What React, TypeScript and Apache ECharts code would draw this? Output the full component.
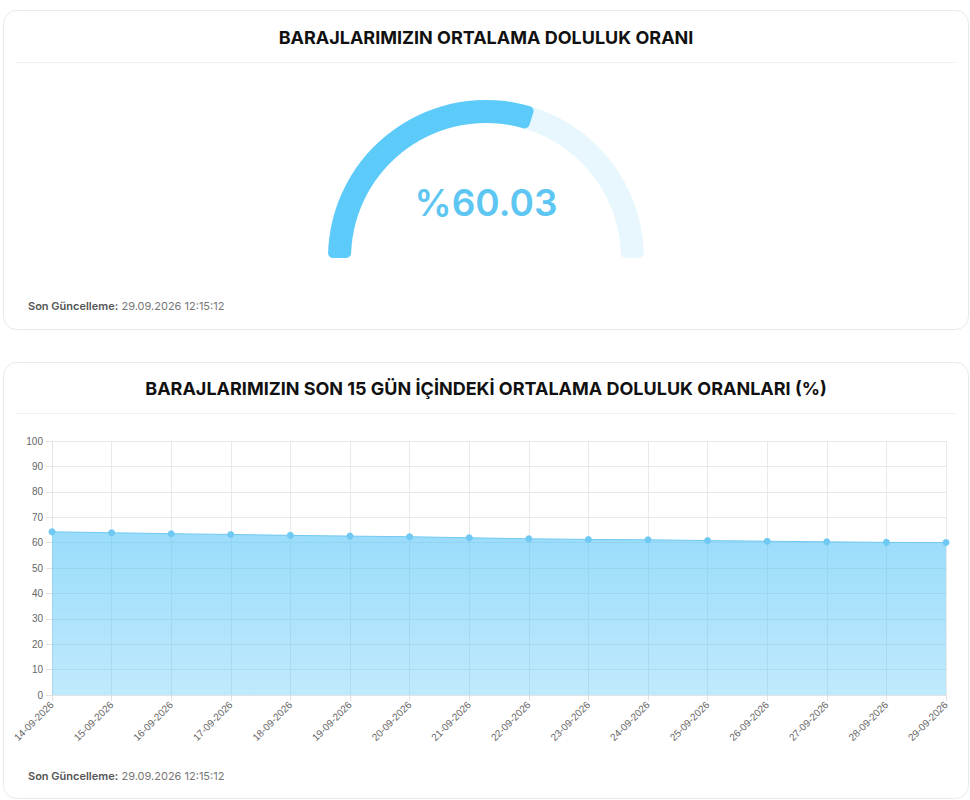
import React, { useEffect, useRef } from "react";
import * as echarts from "echarts";

const gaugeValue = 60.03;
const gaugeMax = 100;
const dates = [
  "14-09-2026", "15-09-2026", "16-09-2026", "17-09-2026", "18-09-2026", "19-09-2026",
  "20-09-2026", "21-09-2026", "22-09-2026", "23-09-2026", "24-09-2026", "25-09-2026",
  "26-09-2026", "27-09-2026", "28-09-2026", "29-09-2026",
];
const fillRates = [
  64.25, 63.88, 63.5, 63.2, 62.85, 62.55, 62.3, 61.9,
  61.5, 61.25, 61.1, 60.8, 60.55, 60.3, 60.08, 60.03,
];
const title1 = "BARAJLARIMIZIN ORTALAMA DOLULUK ORANI";
const title2 = "BARAJLARIMIZIN SON 15 GÜN İÇİNDEKİ ORTALAMA DOLULUK ORANLARI (%)";
const updateLabel = "Son Güncelleme:";
const updateTime = "29.09.2026 12:15:12";

const FONT = "Inter, 'Noto Sans', sans-serif";
const AXIS_FONT = "'Liberation Sans', Arial, sans-serif";

export default function App() {
  const ref = useRef<HTMLDivElement>(null);
  useEffect(() => {
    if (!ref.current) return;
    const chart = echarts.init(ref.current, undefined, { renderer: "svg" });
    const footer = (y: number) => ({
      type: "text",
      left: 28,
      top: y - 7,
      style: {
        text: `{b|${updateLabel}} {n|${updateTime}}`,
        rich: {
          b: { fontFamily: FONT, fontSize: 11, fontWeight: 600, fill: "#555" },
          n: { fontFamily: FONT, fontSize: 11, fontWeight: 400, fill: "#777" },
        },
      },
    });
    chart.setOption({
      animation: false,
      backgroundColor: "#fff",
      graphic: [
        { type: "rect", z: -10, shape: { x: 3.5, y: 10.5, width: 965, height: 319, r: 13 }, style: { fill: "#fff", stroke: "#e9e9e9", lineWidth: 1 } },
        { type: "rect", z: -10, shape: { x: 3.5, y: 362.5, width: 965, height: 436, r: 13 }, style: { fill: "#fff", stroke: "#e9e9e9", lineWidth: 1 } },
        { type: "line", shape: { x1: 16, y1: 62.5, x2: 955, y2: 62.5 }, style: { stroke: "#efefef", lineWidth: 1 } },
        { type: "line", shape: { x1: 16, y1: 413.5, x2: 955, y2: 413.5 }, style: { stroke: "#efefef", lineWidth: 1 } },
        { type: "text", x: 486, y: 37, style: { text: title1, fontFamily: FONT, fontSize: 18, fontWeight: 700, fill: "#111", align: "center", verticalAlign: "middle" } },
        { type: "text", x: 486, y: 388, style: { text: title2, fontFamily: FONT, fontSize: 18, fontWeight: 700, fill: "#111", align: "center", verticalAlign: "middle" } },
        { type: "text", x: 486, y: 202, style: { text: "%" + gaugeValue.toFixed(2), fontFamily: FONT, fontSize: 37, fontWeight: 600, fill: "#5ec6f2", align: "center", verticalAlign: "middle" } },
        footer(307),
        footer(777),
      ],
      grid: { left: 52, right: 24, top: 441, bottom: 105 },
      xAxis: {
        type: "category",
        data: dates,
        boundaryGap: false,
        axisLine: { show: true, lineStyle: { color: "#e3e3e3" } },
        axisTick: { show: true, length: 6, lineStyle: { color: "#e3e3e3" } },
        axisLabel: { rotate: 45, fontSize: 10, color: "#666", fontFamily: AXIS_FONT, margin: 8 },
        splitLine: { show: true, lineStyle: { color: "#e9e9e9" } },
      },
      yAxis: {
        type: "value",
        min: 0,
        max: 100,
        interval: 10,
        axisLine: { show: true, lineStyle: { color: "#e3e3e3" } },
        axisTick: { show: true, length: 6, lineStyle: { color: "#e3e3e3" } },
        axisLabel: { fontSize: 10, color: "#666", fontFamily: AXIS_FONT, margin: 9 },
        splitLine: { show: true, lineStyle: { color: "#e9e9e9" } },
      },
      series: [
        {
          type: "pie",
          silent: true,
          center: [486, 258],
          radius: [135, 158],
          startAngle: 180,
          label: { show: false },
          labelLine: { show: false },
          emphasis: { disabled: true },
          itemStyle: { borderRadius: 5, borderWidth: 0 },
          data: [
            { value: gaugeMax, itemStyle: { color: "#e8f6fd" } },
            { value: gaugeMax, itemStyle: { color: "rgba(0,0,0,0)" } },
          ],
          z: 1,
        },
        {
          type: "pie",
          silent: true,
          center: [486, 258],
          radius: [135, 158],
          startAngle: 180,
          label: { show: false },
          labelLine: { show: false },
          emphasis: { disabled: true },
          itemStyle: { borderRadius: 5, borderWidth: 0 },
          data: [
            { value: gaugeValue, itemStyle: { color: "#5ccbfa" } },
            { value: gaugeMax * 2 - gaugeValue, itemStyle: { color: "rgba(0,0,0,0)" } },
          ],
          z: 2,
        },
        {
          type: "line",
          data: fillRates,
          symbol: "circle",
          symbolSize: 7,
          itemStyle: { color: "#70c9f2" },
          lineStyle: { color: "#72c8f0", width: 1 },
          areaStyle: {
            opacity: 1,
            color: new echarts.graphic.LinearGradient(0, 0, 0, 1, [
              { offset: 0, color: "rgba(80,195,248,0.58)" },
              { offset: 1, color: "rgba(80,195,248,0.36)" },
            ]),
          },
          emphasis: { disabled: true },
        },
      ],
    });
    return () => chart.dispose();
  }, []);
  return <div ref={ref} style={{ position: "absolute", left: 0, top: 0, width: 970, height: 800 }} />;
}
